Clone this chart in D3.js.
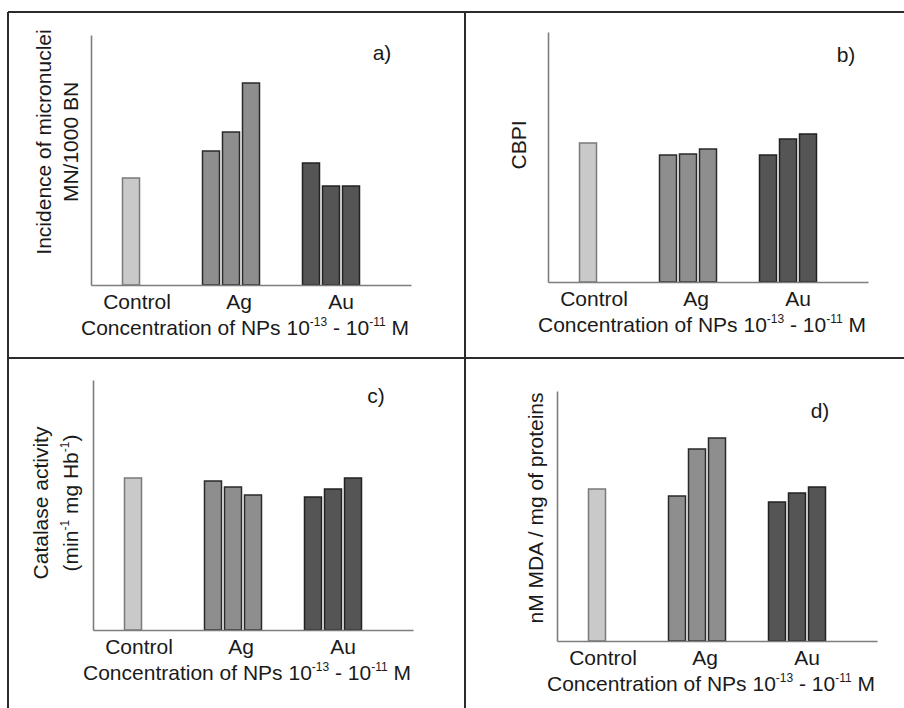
<!DOCTYPE html>
<html>
<head>
<meta charset="utf-8">
<script src="https://cdn.jsdelivr.net/npm/d3@7"></script>
<style>
  body { margin: 0; background: #fff; }
  text { font-family: "Liberation Sans", Arial, sans-serif; fill: #1a1a1a; }
</style>
</head>
<body>
<svg id="chart"></svg>
<script>
// groups on the x axis
const categories = ["Control", "Ag", "Au"];

// bar heights (no y scale shown, arbitrary units 0-100)
const micronuclei = [[42.8], [53.6, 61.2, 80.8], [48.8, 39.6, 39.6]];
const cbpi = [[55.6], [50.8, 51.2, 53.2], [50.8, 57.2, 59.2]];
const catalase = [[60.8], [59.6, 57.2, 54.0], [53.2, 56.4, 60.8]];
const mda = [[60.8], [58.0, 76.8, 81.2], [55.6, 59.2, 61.6]];

const width = 904;
const height = 708;
const fontSize = "21px";

const fills = { Control: "#c9c9c9", Ag: "#8e8e8e", Au: "#555555" };
const strokes = { Control: "#7a7a7a", Ag: "#2a2a2a", Au: "#222222" };

const panels = [
    { values: micronuclei, letter: "a)", x0: 91, yBottom: 285, letterX: 382, letterY: 60,
      ylab: [["Incidence of micronuclei"], ["MN/1000 BN"]], ylabX: [43, 70], ylabY: 142 },
    { values: cbpi, letter: "b)", x0: 548, yBottom: 282, letterX: 846, letterY: 62,
      ylab: [["CBPI"]], ylabX: [518], ylabY: 145 },
    { values: catalase, letter: "c)", x0: 93, yBottom: 630, letterX: 376, letterY: 403,
      ylab: [["Catalase activity"], ["(min", "-1", " mg Hb", "-1", ")"]], ylabX: [40, 70], ylabY: 503 },
    { values: mda, letter: "d)", x0: 557, yBottom: 641, letterX: 820, letterY: 418,
      ylab: [["nM MDA / mg of proteins"]], ylabX: [535], ylabY: 508 }
];

const svg = d3.select("#chart")
    .attr("width", width)
    .attr("height", height);

// frame lines of the 2x2 figure
const frame = svg.append("g")
    .attr("stroke", "#2b2b2b")
    .attr("stroke-width", 2);
frame.append("line").attr("x1", 8).attr("x2", width).attr("y1", 12).attr("y2", 12);
frame.append("line").attr("x1", 8).attr("x2", width).attr("y1", 358).attr("y2", 358);
frame.append("line").attr("x1", 8).attr("x2", 8).attr("y1", 12).attr("y2", height);
frame.append("line").attr("x1", 465).attr("x2", 465).attr("y1", 12).attr("y2", height);

panels.forEach(p => {
    const g = svg.append("g");
    const axisLen = 320;

    const xLine = d3.scaleLinear().domain([0, 1]).range([p.x0, p.x0 + axisLen]);
    const xGroup = d3.scalePoint().domain(categories).range([p.x0 + 40, p.x0 + 240]);
    const xLabel = d3.scalePoint().domain(categories).range([p.x0 + 46, p.x0 + 250]);
    const xInner = d3.scaleBand().domain([0, 1, 2]).range([-28.5, 28.5]).paddingInner(0.15);
    const y = d3.scaleLinear().domain([0, 100]).range([p.yBottom, p.yBottom - 250]);
    const bw = xInner.bandwidth();

    // bars
    categories.forEach((cat, ci) => {
        const vals = p.values[ci];
        g.selectAll(null)
            .data(vals)
            .enter()
            .append("rect")
            .attr("x", (d, i) => vals.length === 1 ? xGroup(cat) - bw / 2 : xGroup(cat) + xInner(i))
            .attr("y", d => y(d))
            .attr("width", bw)
            .attr("height", d => p.yBottom - y(d))
            .attr("fill", fills[cat])
            .attr("stroke", strokes[cat])
            .attr("stroke-width", 1.5);
    });

    // axes (no ticks)
    const xAxis = g.append("g")
        .attr("transform", "translate(0," + p.yBottom + ")")
        .call(d3.axisBottom(xLine).ticks(0).tickSizeOuter(0));
    const yAxis = g.append("g")
        .attr("transform", "translate(" + p.x0 + ",0)")
        .call(d3.axisLeft(y).ticks(0).tickSizeOuter(0));
    [xAxis, yAxis].forEach(a => a.select(".domain").attr("stroke", "#7d7d7d").attr("stroke-width", 1.6));

    // category labels
    g.selectAll(null)
        .data(categories)
        .enter()
        .append("text")
        .attr("x", d => xLabel(d))
        .attr("y", p.yBottom + 24)
        .attr("text-anchor", "middle")
        .attr("font-size", fontSize)
        .text(d => d);

    // x title with superscripts
    const title = g.append("text")
        .attr("x", p.x0 + 154)
        .attr("y", p.yBottom + 50)
        .attr("text-anchor", "middle")
        .attr("font-size", fontSize);
    title.append("tspan").text("Concentration of NPs 10");
    title.append("tspan").attr("font-size", "12px").attr("dy", -9).text("-13");
    title.append("tspan").attr("dy", 9).text(" - 10");
    title.append("tspan").attr("font-size", "12px").attr("dy", -9).text("-11");
    title.append("tspan").attr("dy", 9).text(" M");

    // y label lines, rotated
    p.ylab.forEach((parts, li) => {
        const t = g.append("text")
            .attr("transform", "translate(" + p.ylabX[li] + "," + p.ylabY + ") rotate(-90)")
            .attr("text-anchor", "middle")
            .attr("dy", "0.36em")
            .attr("font-size", fontSize);
        parts.forEach((s, si) => {
            const sup = si % 2 === 1;
            const ts = t.append("tspan").text(s);
            if (parts.length > 1) {
                ts.attr("font-size", sup ? "12px" : null);
                if (si > 0) ts.attr("dy", sup ? -9 : 9);
            }
        });
    });

    // panel letter
    g.append("text")
        .attr("x", p.letterX)
        .attr("y", p.letterY)
        .attr("text-anchor", "middle")
        .attr("font-size", fontSize)
        .text(p.letter);
});
</script>
</body>
</html>
